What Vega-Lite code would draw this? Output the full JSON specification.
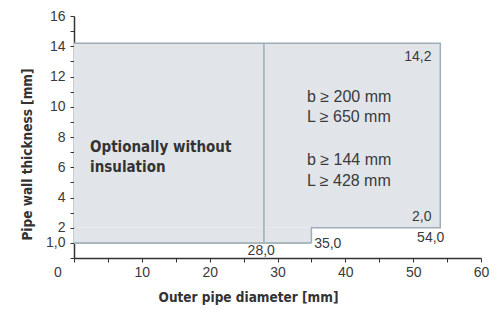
{
  "$schema": "https://vega.github.io/schema/vega-lite/v6.json",
  "width": 407,
  "height": 242,
  "autosize": {"type": "none"},
  "padding": {"left": 74, "top": 16, "right": 16, "bottom": 55},
  "background": "white",
  "config": {
    "view": {"stroke": null},
    "axis": {"grid": false, "labelFont": "Liberation Sans", "labelFontSize": 14, "labelColor": "#3a3a3a", "domainColor": "#333333", "tickColor": "#333333", "titleFont": "DejaVu Sans Condensed, Liberation Sans, sans-serif", "titleFontSize": 13.5, "titleFontWeight": "bold", "titleColor": "#333333", "labelOverlap": false, "labelFlush": false, "labelBound": false},
    "axisY": {"labelOverlap": false},
    "axisQuantitative": {"labelOverlap": false}
  },
  "datasets": {
    "regions": [
      {"x": 0, "x2": 54, "y": 2, "y2": 14.2},
      {"x": 0, "x2": 35, "y": 1, "y2": 2}
    ],
    "outline": [
      {"o": 1, "x": 0, "y": 14.2},
      {"o": 2, "x": 54, "y": 14.2},
      {"o": 3, "x": 54, "y": 2},
      {"o": 4, "x": 35, "y": 2},
      {"o": 5, "x": 35, "y": 1}
    ],
    "bottom": [{"x": 0, "x2": 35, "y": 1}],
    "divider": [{"x": 28, "y": 1, "y2": 14.2}],
    "notes": [
      {"group": "right", "x": 52.7, "y": 13.3, "text": "14,2"},
      {"group": "right", "x": 52.7, "y": 2.7, "text": "2,0"},
      {"group": "right", "x": 54.6, "y": 1.3, "text": "54,0"},
      {"group": "left", "x": 35.4, "y": 0.92, "text": "35,0"},
      {"group": "center", "x": 27.6, "y": 0.46, "text": "28,0"},
      {"group": "cond", "x": 34.35, "y": 10.66, "text": "b ≥ 200 mm"},
      {"group": "cond", "x": 34.35, "y": 9.34, "text": "L ≥ 650 mm"},
      {"group": "cond", "x": 34.35, "y": 6.45, "text": "b ≥ 144 mm"},
      {"group": "cond", "x": 34.35, "y": 5.07, "text": "L ≥ 428 mm"},
      {"group": "bold", "x": 2.36, "y": 7.37, "text": "Optionally without"},
      {"group": "bold", "x": 2.36, "y": 5.99, "text": "insulation"},
      {"group": "origin", "x": 0, "y": 0, "text": "0"}
    ]
  },
  "encoding": {
    "x": {"field": "x", "type": "quantitative", "scale": {"domain": [0, 60], "nice": false},
      "axis": {"title": "Outer pipe diameter [mm]", "values": [0, 5, 10, 15, 20, 25, 30, 35, 40, 45, 50, 55, 60], "labelExpr": "datum.value % 10 == 0 && datum.value > 0 ? datum.label : ''", "labelOverlap": false, "tickSize": 4, "labelPadding": 3, "domainWidth": 1.5, "titleX": 174, "titleY": 39, "titleBaseline": "middle", "titleAlign": "center"}},
    "y": {"field": "y", "type": "quantitative", "scale": {"domain": [0, 16], "nice": false},
      "axis": {"title": "Pipe wall thickness [mm]", "values": [0, 1, 2, 3, 4, 5, 6, 7, 8, 9, 10, 11, 12, 13, 14, 15, 16], "labelExpr": "datum.value == 1 ? '1,0' : (datum.value % 2 == 0 && datum.value > 0 ? datum.label : '')", "labelOverlap": false, "tickSize": 4, "labelPadding": 5, "domainWidth": 1.5, "titleX": -47, "titleY": 138, "titleBaseline": "middle", "titleAlign": "center", "titleAngle": -90}}
  },
  "layer": [
    {
      "data": {"name": "regions"},
      "mark": {"type": "rect", "color": "#e1e5ea"},
      "encoding": {"x2": {"field": "x2"}, "y2": {"field": "y2"}}
    },
    {
      "data": {"name": "outline"},
      "mark": {"type": "line", "color": "#9eadb7", "strokeWidth": 1.5},
      "encoding": {"order": {"field": "o", "type": "quantitative"}}
    },
    {
      "data": {"name": "bottom"},
      "mark": {"type": "rule", "color": "#a8b8bd", "strokeWidth": 2},
      "encoding": {"x2": {"field": "x2"}}
    },
    {
      "data": {"name": "divider"},
      "mark": {"type": "rule", "color": "#9eadb7", "strokeWidth": 1.5},
      "encoding": {"y2": {"field": "y2"}}
    },
    {
      "data": {"name": "notes"},
      "transform": [{"filter": "datum.group == 'right'"}],
      "mark": {"type": "text", "align": "right", "baseline": "middle", "font": "Liberation Sans", "fontSize": 14, "color": "#3a3a3a"},
      "encoding": {"text": {"field": "text"}}
    },
    {
      "data": {"name": "notes"},
      "transform": [{"filter": "datum.group == 'left'"}],
      "mark": {"type": "text", "align": "left", "baseline": "middle", "font": "Liberation Sans", "fontSize": 14, "color": "#3a3a3a"},
      "encoding": {"text": {"field": "text"}}
    },
    {
      "data": {"name": "notes"},
      "transform": [{"filter": "datum.group == 'center'"}],
      "mark": {"type": "text", "align": "center", "baseline": "middle", "font": "Liberation Sans", "fontSize": 14, "color": "#3a3a3a"},
      "encoding": {"text": {"field": "text"}}
    },
    {
      "data": {"name": "notes"},
      "transform": [{"filter": "datum.group == 'cond'"}],
      "mark": {"type": "text", "align": "left", "baseline": "middle", "font": "Liberation Sans", "fontSize": 16, "color": "#3a3a3a"},
      "encoding": {"text": {"field": "text"}}
    },
    {
      "data": {"name": "notes"},
      "transform": [{"filter": "datum.group == 'bold'"}],
      "mark": {"type": "text", "align": "left", "baseline": "middle", "font": "DejaVu Sans Condensed, Liberation Sans, sans-serif", "fontWeight": "bold", "fontSize": 15, "color": "#333333"},
      "encoding": {"text": {"field": "text"}}
    },
    {
      "data": {"name": "notes"},
      "transform": [{"filter": "datum.group == 'origin'"}],
      "mark": {"type": "text", "align": "center", "baseline": "middle", "dx": -16, "dy": 15, "font": "Liberation Sans", "fontSize": 14, "color": "#3a3a3a"},
      "encoding": {"text": {"field": "text"}}
    }
  ]
}
